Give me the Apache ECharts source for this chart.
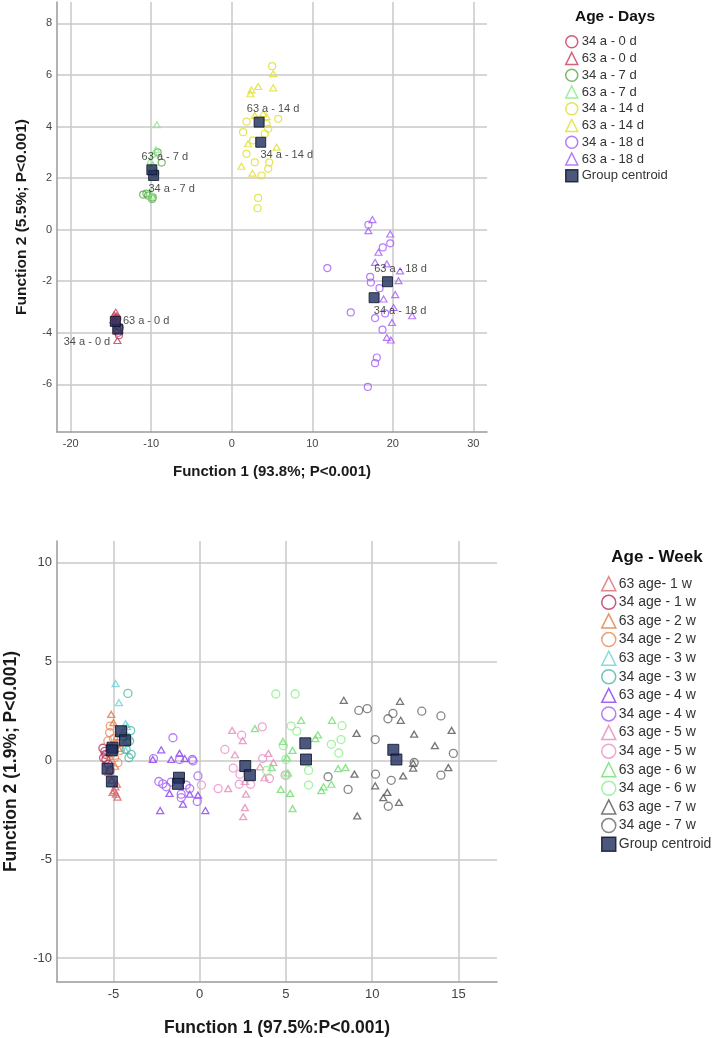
<!DOCTYPE html>
<html>
<head>
<meta charset="utf-8">
<script src="https://cdn.jsdelivr.net/npm/echarts@6/dist/echarts.min.js"></script>
<style>
  html, body { margin: 0; padding: 0; background: #fff; }
  #chart { width: 714px; height: 1038px; }
</style>
</head>
<body>
<div id="chart"></div>
<script>
// ---- upper plot: age in days ----
const dayNames = ['34 a - 0 d', '63 a - 0 d', '34 a - 7 d', '63 a - 7 d',
  '34 a - 14 d', '63 a - 14 d', '34 a - 18 d', '63 a - 18 d'];
const day34_0 = [[-14.2, -3.9], [-14.0, -4.1], [-14.3, -3.7], [-14.1, -4.0], [-13.9, -3.8], [-14.4, -3.6], [-14.2, -3.45]];
const day63_0 = [[-14.6, -3.3], [-14.5, -3.4], [-14.7, -3.5], [-14.4, -3.2], [-14.2, -4.3], [-14.6, -3.6], [-14.3, -3.35]];
const day34_7 = [[-11.0, 1.36], [-10.4, 1.32], [-9.9, 1.19], [-9.8, 1.25], [-8.7, 2.6], [-9.2, 3.0], [-9.5, 2.2], [-10.6, 1.4]];
const day63_7 = [[-9.3, 4.07], [-9.4, 3.1], [-9.6, 2.94], [-10.1, 2.66], [-9.8, 2.5], [-10.0, 2.4], [-10.2, 1.45], [-9.9, 1.3]];
const day34_14 = [[5.02, 6.34], [1.83, 4.19], [5.77, 4.3], [1.41, 3.78], [4.53, 3.91], [4.32, 4.1], [4.1, 3.72], [1.83, 2.94],
  [2.86, 2.61], [4.65, 2.61], [4.53, 2.36], [3.7, 2.1], [2.65, 3.46], [3.28, 1.23], [3.2, 0.83]];
const day63_14 = [[5.15, 6.05], [2.45, 5.42], [2.33, 5.27], [3.28, 5.55], [5.15, 5.5], [2.03, 3.33], [5.57, 3.2], [1.2, 2.46],
  [2.57, 2.19], [4.32, 4.39], [2.86, 4.43], [3.9, 4.5]];
const day34_18 = [[11.87, -1.49], [14.78, -3.21], [16.97, 0.19], [18.76, -0.69], [19.68, -0.53], [17.19, -1.83], [17.27, -2.05],
  [18.35, -2.27], [17.8, -3.43], [19.05, -3.25], [18.72, -3.88], [18.02, -4.96], [17.8, -5.18], [16.9, -6.1]];
const day63_18 = [[17.47, 0.39], [16.97, -0.04], [19.68, -0.17], [18.22, -0.88], [17.8, -1.27], [19.26, -1.33], [20.71, -1.98],
  [20.3, -2.52], [18.85, -2.69], [20.1, -3.02], [22.4, -3.34], [19.9, -3.6], [19.26, -4.18], [19.76, -4.28], [20.9, -1.6]];
const dayCentroidX = [-14.16, -14.45, -9.7, -9.92, 3.6, 3.4, 17.68, 19.34];
const dayCentroidY = [-3.86, -3.56, 2.1, 2.32, 3.39, 4.17, -2.64, -2.02];
const dayXTicks = [-20, -10, 0, 10, 20, 30];
const dayYTicks = [-6, -4, -2, 0, 2, 4, 6, 8];

// ---- lower plot: age in weeks ----
const weekNames = ['63 age- 1 w', '34 age - 1 w', '63 age - 2 w', '34 age - 2 w', '63 age - 3 w', '34 age - 3 w',
  '63 age - 4 w', '34 age - 4 w', '63 age - 5 w', '34 age - 5 w', '63 age - 6 w', '34 age - 6 w',
  '63 age - 7 w', '34 age - 7 w'];
const wk63_1 = [[-4.95, -1.53], [-4.85, -1.71], [-4.76, -1.86], [-5.05, -1.62], [-4.89, -1.34], [-5.1, -1.0], [-5.3, -0.6], [-4.8, -1.2]];
const wk34_1 = [[-5.61, 0.61], [-5.57, 0.13], [-5.44, 0.04], [-5.3, -0.2], [-5.5, 0.45], [-5.2, -0.5], [-5.45, 0.3]];
const wk63_2 = [[-5.13, 2.32], [-5.0, 1.9], [-4.7, 0.6], [-5.2, 0.2], [-4.9, -0.3], [-4.8, 1.2]];
const wk34_2 = [[-5.18, 1.73], [-5.22, 1.4], [-5.32, 0.98], [-4.84, 0.81], [-4.93, 0.13], [-4.74, -0.12], [-4.6, 0.5], [-5.0, 1.1]];
const wk63_3 = [[-4.87, 3.87], [-4.68, 2.91], [-4.29, 1.85], [-4.2, 1.7], [-4.5, 1.4], [-4.3, 0.5], [-4.1, 1.2]];
const wk34_3 = [[-4.16, 3.38], [-4.06, 0.98], [-4.1, 0.13], [-3.97, 0.3], [-4.26, 0.56], [-4.4, 1.2], [-4.2, 0.9], [-4.0, 1.5]];
const wk63_4 = [[-2.23, 0.53], [-2.72, 0.04], [-1.65, 0.04], [-1.17, 0.35], [-0.87, 0.09], [-2.29, -2.54], [0.33, -2.54],
  [-0.97, -2.21], [-1.75, -1.67], [-0.1, -1.76], [-0.58, -1.71]];
const wk34_4 = [[-1.55, 1.14], [-2.68, 0.09], [-1.17, 0.04], [-0.43, 0.04], [-0.1, -0.79], [-2.14, -1.19], [-1.94, -1.34],
  [-1.07, -1.71], [-1.07, -1.89], [-0.58, -1.43], [-0.14, -2.08], [-1.65, -1.1], [-0.78, -1.25], [-2.37, -1.07], [-0.39, -0.03]];
const wk63_5 = [[1.88, 1.51], [2.49, 0.99], [2.04, 0.28], [1.65, -1.43], [2.68, -1.71], [2.62, -2.39], [2.52, -2.85],
  [3.98, 0.35], [4.27, -0.11], [3.5, -0.33], [3.75, -0.88], [2.62, -1.07]];
const wk34_5 = [[2.43, 1.27], [3.63, 1.69], [1.46, 0.55], [1.94, -0.39], [2.33, -0.7], [2.29, -1.21], [2.95, -1.21],
  [3.65, 0.09], [4.04, -0.92], [4.95, -0.75], [1.07, -1.43], [0.1, -1.25]];
const wk63_6 = [[3.2, 1.6], [5.88, 2.02], [4.82, 0.96], [5.38, 0.5], [5.05, 0.13], [4.17, -0.37], [5.11, -0.64], [4.7, -1.47],
  [5.24, -1.67], [5.38, -2.44], [6.85, 1.29], [6.7, 1.1], [7.67, 2.02], [8.45, -0.37], [8.02, -0.42], [7.05, -1.53],
  [7.63, -1.21], [7.18, -1.34]];
const wk34_6 = [[4.41, 3.35], [5.53, 3.35], [5.3, 1.73], [5.63, 1.47], [8.25, 1.75], [8.19, 1.05], [7.63, 0.81], [8.06, 0.37],
  [4.85, 0.74], [4.99, 0.04], [6.31, -0.51], [6.31, -1.25], [3.88, -0.51], [5.05, -0.75]];
const wk63_7 = [[8.35, 3.03], [11.61, 2.98], [11.65, 2.02], [9.09, 1.36], [12.43, 1.32], [14.6, 1.51], [13.63, 0.74],
  [8.97, -0.7], [9.13, -2.81], [10.17, -1.29], [10.87, -1.62], [10.64, -1.89], [11.55, -2.13], [11.79, -0.79],
  [12.37, -0.39], [14.41, -0.37], [12.37, -0.15]];
const wk34_7 = [[9.22, 2.52], [9.71, 2.61], [10.91, 2.1], [11.2, 2.37], [12.87, 2.48], [13.98, 2.24], [10.17, 1.05],
  [14.7, 0.35], [10.19, -0.7], [7.44, -0.83], [8.6, -1.47], [11.1, -1.01], [10.93, -2.32], [13.98, -0.75], [12.43, -0.11]];
const weekCentroidX = [-4.56, -4.33, -5.05, -5.34, -5.09, -1.2, -1.26, 2.64, 2.91, 6.12, 6.16, 11.22, 11.4, -5.1];
const weekCentroidY = [1.47, 1.01, 0.64, -0.42, -1.07, -0.88, -1.19, -0.29, -0.75, 0.86, 0.04, 0.53, 0.04, 0.5];
const weekXTicks = [-5, 0, 5, 10, 15];
const weekYTicks = [-10, -5, 0, 5, 10];

const dayGroups = [day34_0, day63_0, day34_7, day63_7, day34_14, day63_14, day34_18, day63_18];
const weekGroups = [wk63_1, wk34_1, wk63_2, wk34_2, wk63_3, wk34_3, wk63_4, wk34_4,
  wk63_5, wk34_5, wk63_6, wk34_6, wk63_7, wk34_7];

// styles
const FONT = '"Liberation Sans", Arial, sans-serif';
const dayColors = ['#c2345a', '#c83a56', '#5aa846', '#86ec86', '#dede2c', '#dede2c', '#a45cf8', '#a45cf8'];
const daySymbols = ['circle', 'triangle', 'circle', 'triangle', 'circle', 'triangle', 'circle', 'triangle'];
const weekColors = ['#d9666a', '#b8305a', '#e07a40', '#e58a5a', '#66d4d8', '#4bb8a4', '#8b3ff0', '#a25ef5',
  '#e58ab8', '#ea8fc8', '#6ee06e', '#8ded8d', '#555555', '#666666'];
// label placement next to each day centroid
const dayLabelPlace = [
  { position: 'left', offset: [0, 13] },
  { position: 'right', offset: [0, 0] },
  { position: 'bottom', offset: [18, 0] },
  { position: 'top', offset: [13, 0] },
  { position: 'bottom', offset: [26, 0] },
  { position: 'top', offset: [14, 0] },
  { position: 'bottom', offset: [26, 0] },
  { position: 'top', offset: [13, 0] }
];

function makeAxis(gridIndex, min, max, ticks, name, nameGap, nameSize, labelSize, isY) {
  return {
    gridIndex: gridIndex,
    type: 'value',
    min: min,
    max: max,
    name: name,
    nameLocation: 'middle',
    nameGap: nameGap,
    nameTextStyle: { fontFamily: FONT, fontWeight: 'bold', fontSize: nameSize, color: '#1a1a1a' },
    axisLine: { show: true, onZero: false, lineStyle: { color: '#9a9a9a', width: 1.5 } },
    axisTick: { show: false, customValues: ticks },
    axisLabel: { customValues: ticks, fontFamily: FONT, fontSize: labelSize, color: '#444', margin: isY ? 5 : 6 },
    splitLine: { show: true, lineStyle: { color: '#c8c8c8', width: 1.5 } }
  };
}

const series = [];
dayGroups.forEach((pts, i) => {
  series.push({
    type: 'scatter', name: dayNames[i], xAxisIndex: 0, yAxisIndex: 0,
    symbol: daySymbols[i], symbolSize: daySymbols[i] === 'circle' ? 7 : [7, 6],
    itemStyle: { color: 'rgba(0,0,0,0)', borderColor: dayColors[i], borderWidth: 1.2 },
    data: pts
  });
});
series.push({
  type: 'scatter', name: 'Group centroid', xAxisIndex: 0, yAxisIndex: 0, z: 5,
  symbol: 'rect', symbolSize: 10,
  itemStyle: { color: '#1f2d5e', borderColor: '#0b1024', borderWidth: 1 },
  label: { show: true, formatter: p => p.name, fontFamily: FONT, fontSize: 11, color: '#222', distance: 2 },
  data: dayCentroidX.map((x, i) => ({
    value: [x, dayCentroidY[i]], name: dayNames[i],
    label: dayLabelPlace[i]
  }))
});
weekGroups.forEach((pts, i) => {
  const tri = i % 2 === 0;
  series.push({
    type: 'scatter', name: weekNames[i], xAxisIndex: 1, yAxisIndex: 1,
    symbol: tri ? 'triangle' : 'circle', symbolSize: tri ? [7, 6] : 8,
    itemStyle: { color: 'rgba(0,0,0,0)', borderColor: weekColors[i], borderWidth: 1.3 },
    data: pts
  });
});
series.push({
  type: 'scatter', name: 'Group centroid', xAxisIndex: 1, yAxisIndex: 1, z: 5,
  symbol: 'rect', symbolSize: 11,
  itemStyle: { color: '#1f2d5e', borderColor: '#0b1024', borderWidth: 1 },
  data: weekCentroidX.map((x, i) => [x, weekCentroidY[i]])
});

const chart = echarts.init(document.getElementById('chart'), null, { renderer: 'canvas' });
chart.setOption({
  animation: false,
  backgroundColor: '#fff',
  textStyle: { fontFamily: FONT },
  title: [
    { text: 'Age - Days', left: 615, top: 9, padding: 0, textAlign: 'center',
      textStyle: { fontFamily: FONT, fontSize: 15.5, fontWeight: 'bold', color: '#111' } },
    { text: 'Age - Week', left: 657, top: 549, padding: 0, textAlign: 'center',
      textStyle: { fontFamily: FONT, fontSize: 17, fontWeight: 'bold', color: '#111' } }
  ],
  legend: [
    { orient: 'vertical', left: 565, top: 35, padding: 0, itemWidth: 12, itemHeight: 12, itemGap: 3.25,
      itemStyle: { borderWidth: 1.5 }, selectedMode: false,
      textStyle: { fontFamily: FONT, fontSize: 13, color: '#333', padding: [0, 0, 0, -1] },
      data: dayNames.concat(['Group centroid']) },
    { orient: 'vertical', left: 601, top: 576, padding: 0, itemWidth: 14, itemHeight: 14, itemGap: 3.1,
      itemStyle: { borderWidth: 1.5 }, selectedMode: false,
      textStyle: { fontFamily: FONT, fontSize: 14, color: '#333', padding: [0, 0, 0, -2] },
      data: weekNames.concat(['Group centroid']) }
  ],
  grid: [
    { left: 57, top: 2, width: 430, height: 430, outerBoundsMode: 'none', containLabel: false },
    { left: 57, top: 541, width: 440, height: 441, outerBoundsMode: 'none', containLabel: false }
  ],
  xAxis: [
    makeAxis(0, -21.7, 31.7, dayXTicks, 'Function 1 (93.8%; P<0.001)', 32, 15, 11, false),
    makeAxis(1, -8.27, 17.23, weekXTicks, 'Function 1 (97.5%:P<0.001)', 37, 17.5, 13, false)
  ],
  yAxis: [
    makeAxis(0, -7.85, 8.83, dayYTicks, 'Function 2 (5.5%; P<0.001)', 27, 15.5, 11, true),
    makeAxis(1, -11.2, 11.08, weekYTicks, 'Function 2 (1.9%; P<0.001)', 36.5, 17.5, 13, true)
  ],
  series: series
});
</script>
</body>
</html>
